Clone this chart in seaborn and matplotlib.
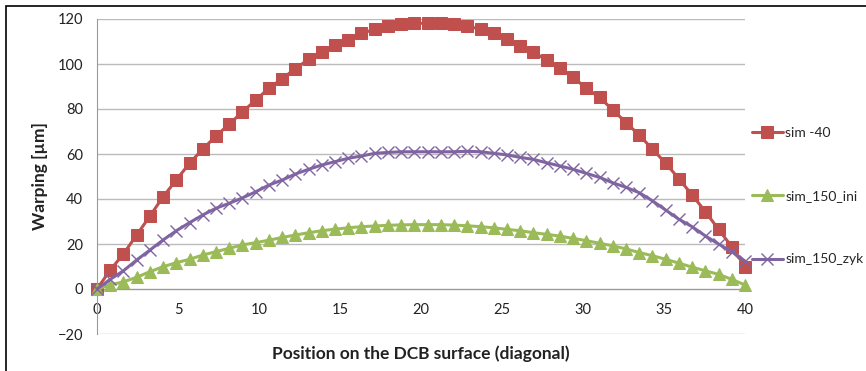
import numpy as np
import pandas as pd
import matplotlib
matplotlib.use("Agg")
import matplotlib.pyplot as plt
import seaborn as sns
from matplotlib.patches import Rectangle

# positions along the diagonal (50 points from 0 to 40)
position = np.linspace(0, 40, 50)

sim_40 = [0, 8.4, 15.6, 24, 32.4, 41, 48.5, 55.9, 62.2, 68,
          73.3, 78.7, 84, 89.2, 93.5, 97.9, 102.1, 105.3, 108.3, 110.7,
          113.6, 115.4, 117, 117.8, 118.1, 118.1, 118.1, 117.6, 116.9, 115.4,
          113.6, 111, 108.1, 105.2, 101.8, 98.1, 94.1, 89.2, 85.2, 79.6,
          74, 68.4, 62.2, 55.9, 49, 41.8, 34.4, 26.5, 18.8, 9.9]

sim_150_ini = [0, 1.8, 3.2, 5.2, 7.7, 9.9, 11.7, 13.2, 15.1, 16.6,
               18.1, 19.6, 20.6, 21.7, 22.9, 24.0, 25.0, 25.9, 26.6, 27.2,
               27.7, 28.0, 28.3, 28.5, 28.6, 28.6, 28.6, 28.4, 28.1, 27.7,
               27.2, 26.5, 25.9, 25.0, 24.3, 23.5, 22.5, 21.5, 20.3, 19.2,
               17.8, 16.2, 14.8, 13.2, 11.5, 9.7, 8.1, 6.5, 4.3, 1.8]

sim_150_zyk = [0, 4.3, 8.1, 12.9, 17.3, 21.8, 25.9, 29.5, 32.9, 35.9,
               38.1, 40.5, 43.2, 46.2, 48.4, 51.1, 53.2, 55.1, 56.6, 58.1,
               59.1, 60.3, 60.7, 61, 61, 61, 61, 61, 61.2, 61,
               60.3, 59.6, 58.5, 57.6, 56.1, 54.7, 53.2, 51.4, 49.6, 47.2,
               45.2, 42.8, 39.2, 35.1, 31, 27.7, 23.6, 20, 16.6, 12.4]

x_ticks = [0, 5, 10, 15, 20, 25, 30, 35, 40]
y_ticks = [-20, 0, 20, 40, 60, 80, 100, 120]

sns.set_style("white")
plt.rcParams["font.family"] = ["Lato", "DejaVu Sans"]

fig = plt.figure(figsize=(8.66, 3.71), dpi=100)
ax = fig.add_axes([97 / 866, 1 - 334 / 371, 648 / 866, 315 / 371])

sns.lineplot(x=position, y=sim_40, ax=ax, color="#C0504D", marker="s",
             markersize=8.5, markeredgecolor="#C0504D", linewidth=2.2,
             label="sim -40", clip_on=False, zorder=3)
sns.lineplot(x=position, y=sim_150_ini, ax=ax, color="#9BBB59", marker="^",
             markersize=8.5, markeredgecolor="#9BBB59", linewidth=2.2,
             label="sim_150_ini", clip_on=False, zorder=3)
sns.lineplot(x=position, y=sim_150_zyk, ax=ax, color="#8064A2", marker="x",
             markersize=8, markeredgecolor="#8064A2", markeredgewidth=1.0,
             linewidth=2.2, label="sim_150_zyk", clip_on=False, zorder=3)

ax.set_xlim(0, 40)
ax.set_ylim(-20, 120)
ax.set_xticks(x_ticks)
ax.set_yticks(y_ticks)
ax.yaxis.grid(True, color="#BBBBBB", linewidth=1.0)
ax.xaxis.grid(False)

ax.spines["top"].set_visible(False)
ax.spines["right"].set_visible(False)
ax.spines["bottom"].set_position(("data", 0))
ax.spines["bottom"].set_color("#9A9A9A")
ax.spines["left"].set_color("#9A9A9A")
ax.tick_params(axis="both", which="major", direction="out", length=4,
               color="#9A9A9A", labelsize=10.5, labelcolor="#222222")
ax.tick_params(axis="y", pad=6)
ax.tick_params(axis="x", pad=6)

ax.set_xlabel("Position on the DCB surface (diagonal)", fontsize=12.5,
              fontweight="bold", color="#222222")
ax.set_ylabel("Warping [µm]", fontsize=12.5, fontweight="bold", color="#222222")
ax.xaxis.set_label_coords(0.5, -0.035)
ax.yaxis.set_label_coords(-0.075, 0.5)

ax.legend(loc="center left", bbox_to_anchor=(752 / 866, 1 - 196 / 371),
          bbox_transform=fig.transFigure, frameon=False, fontsize=10,
          handlelength=2.2, handletextpad=0.2, labelspacing=3.7,
          borderpad=0, borderaxespad=0)

# chart area border (only top and left edges fall inside the image)
fig.patches.append(Rectangle((6 / 866, -0.2), 1.2, 1.2 - 6 / 371,
                             transform=fig.transFigure, fill=False,
                             edgecolor="black", linewidth=1.2))

fig.savefig("out.png", dpi=100)
